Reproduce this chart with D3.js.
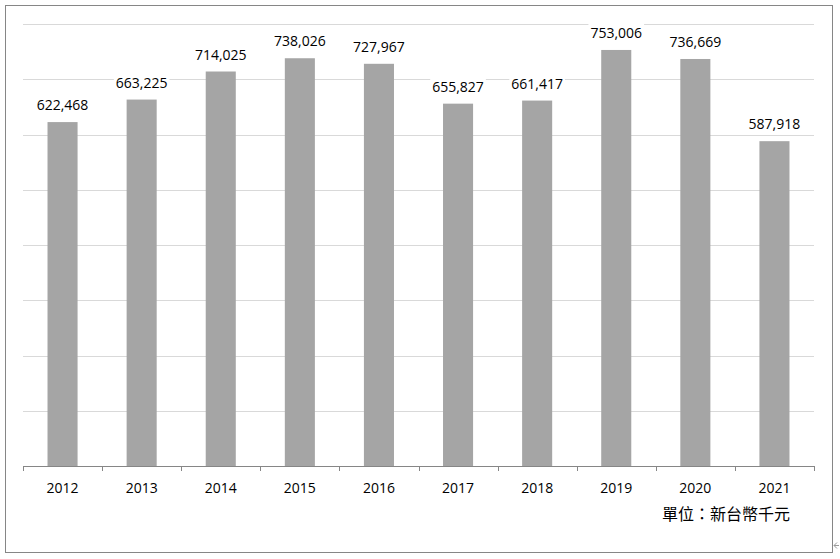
<!DOCTYPE html>
<html lang="zh-Hant">
<head>
  <meta charset="UTF-8">
  <script src="https://d3js.org/d3.v7.min.js"></script>
  <title>年度金額</title>
  <style>
    body { margin: 0; background: #fff; }
    svg text { font-family: 'Open Sans', 'Noto Sans CJK TC', sans-serif; fill: #000; }
  </style>
</head>
<body>
  <svg width="840" height="559"></svg>
  <script>
    // data
    const years = ["2012", "2013", "2014", "2015", "2016", "2017", "2018", "2019", "2020", "2021"];
    const amounts = [622468, 663225, 714025, 738026, 727967, 655827, 661417, 753006, 736669, 587918];
    const yTicks = [100000, 200000, 300000, 400000, 500000, 600000, 700000, 800000];
    const unitLabel = "單位：新台幣千元";

    const svg = d3.select("svg");
    const rows = years.map((y, i) => ({ year: y, value: amounts[i] }));

    const plot = { left: 23, right: 814, top: 24, bottom: 466 };

    const x = d3.scaleBand()
      .domain(years)
      .range([plot.left, plot.right])
      .paddingInner(0.62)
      .paddingOuter(0.31);

    const y = d3.scaleLinear()
      .domain([0, 800000])
      .range([plot.bottom, plot.top]);

    // outer frame
    svg.append("rect")
      .attr("x", 5.5).attr("y", 5.5)
      .attr("width", 827).attr("height", 547)
      .attr("fill", "#fff")
      .attr("stroke", "#868686");

    // gridlines
    svg.append("g")
      .selectAll("line")
      .data(yTicks)
      .join("line")
      .attr("x1", plot.left).attr("x2", plot.right)
      .attr("y1", d => Math.round(y(d)) + 0.5)
      .attr("y2", d => Math.round(y(d)) + 0.5)
      .attr("stroke", "#d9d9d9");

    // bars
    svg.append("g")
      .selectAll("rect")
      .data(rows)
      .join("rect")
      .attr("x", d => x(d.year))
      .attr("y", d => y(d.value))
      .attr("width", x.bandwidth())
      .attr("height", d => y(0) - y(d.value))
      .attr("fill", "#a5a5a5");

    // x axis with ticks between categories
    const axis = svg.append("g");
    axis.append("line")
      .attr("x1", plot.left).attr("x2", plot.right)
      .attr("y1", plot.bottom + 0.5).attr("y2", plot.bottom + 0.5)
      .attr("stroke", "#868686");
    const step = x.step();
    axis.selectAll("line.tick")
      .data(d3.range(years.length + 1))
      .join("line")
      .attr("class", "tick")
      .attr("x1", i => Math.round(plot.left + i * step) + 0.5)
      .attr("x2", i => Math.round(plot.left + i * step) + 0.5)
      .attr("y1", plot.bottom)
      .attr("y2", plot.bottom + 5)
      .attr("stroke", "#868686");
    axis.selectAll("text")
      .data(years)
      .join("text")
      .attr("x", d => x(d) + x.bandwidth() / 2)
      .attr("y", 493)
      .attr("text-anchor", "middle")
      .attr("font-size", 14)
      .text(d => d);

    // value labels with white backing
    const labels = svg.append("g")
      .selectAll("g")
      .data(rows)
      .join("g");
    labels.append("rect")
      .attr("fill", "#fff");
    labels.append("text")
      .attr("x", d => x(d.year) + x.bandwidth() / 2)
      .attr("y", d => y(d.value) - 12)
      .attr("text-anchor", "middle")
      .attr("font-size", 14)
      .text(d => d3.format(",")(d.value));
    labels.each(function () {
      const g = d3.select(this);
      const b = g.select("text").node().getBBox();
      g.select("rect")
        .attr("x", b.x - 2).attr("y", b.y)
        .attr("width", b.width + 4).attr("height", b.height);
    });

    // unit note
    svg.append("text")
      .attr("x", 790)
      .attr("y", 520)
      .attr("text-anchor", "end")
      .attr("font-size", 16)
      .style("font-family", "'Noto Sans CJK TC', sans-serif")
      .text(unitLabel);

    // small resize arrow at the frame corner
    svg.append("path")
      .attr("d", "M839,545.5 H834 M837,542.5 L834,545.5 L837,548.5")
      .attr("fill", "none")
      .attr("stroke", "#9a9a9a");
  </script>
</body>
</html>
